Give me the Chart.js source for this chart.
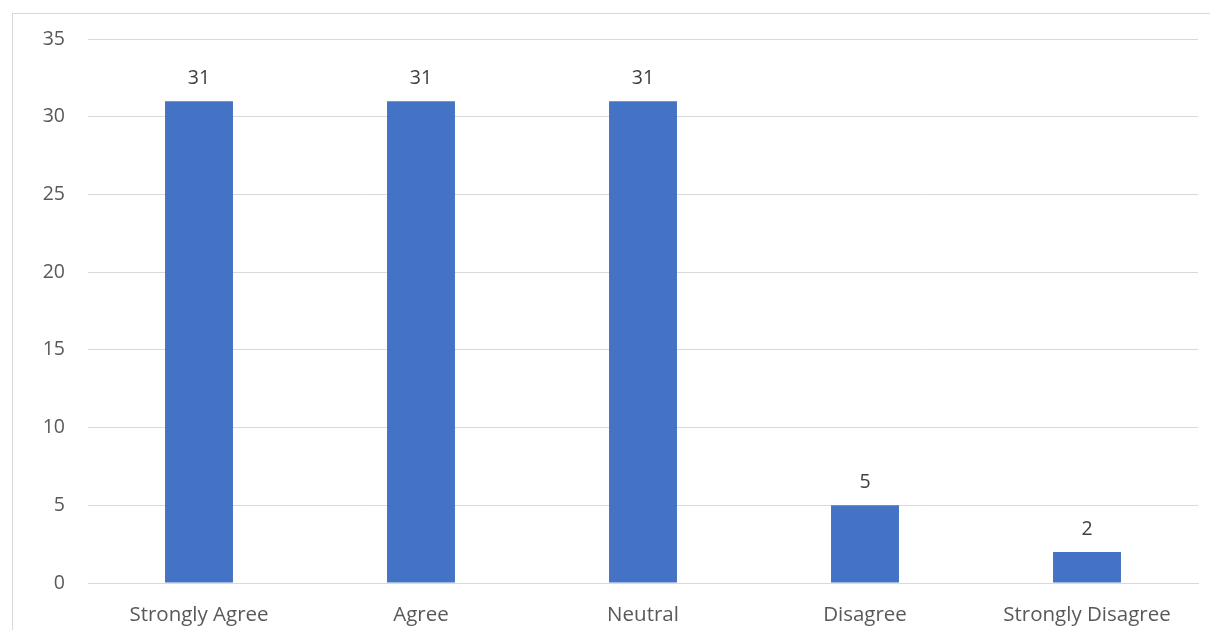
<!DOCTYPE html>
<html>
<head>
<meta charset="utf-8">
<script src="https://cdn.jsdelivr.net/npm/chart.js@4.4.0/dist/chart.umd.min.js"></script>
<style>
  html, body { margin: 0; padding: 0; background: #fff; }
  #wrap { position: relative; width: 1210px; height: 630px; overflow: hidden; }
  #frame { position: absolute; left: 12px; top: 13px; width: 1220px; height: 640px; border: 1px solid #d9d9d9; }
  #c { position: absolute; left: 0; top: 0; }
</style>
</head>
<body>
<div id="wrap">
  <div id="frame"></div>
  <canvas id="c" width="1210" height="630"></canvas>
</div>
<script>
var categories = ['Strongly Agree', 'Agree', 'Neutral', 'Disagree', 'Strongly Disagree'];
var counts = [31, 31, 31, 5, 2];
var yTicks = [0, 5, 10, 15, 20, 25, 30, 35];

var FONT = '"Open Sans", sans-serif';
var FSIZE = 19.5;

// value labels above each bar
var barLabels = {
  id: 'barLabels',
  afterDatasetsDraw: function(chart) {
    var ctx = chart.ctx;
    var meta = chart.getDatasetMeta(0);
    ctx.save();
    ctx.fillStyle = '#404040';
    ctx.font = FSIZE + 'px ' + FONT;
    ctx.textAlign = 'center';
    ctx.textBaseline = 'alphabetic';
    meta.data.forEach(function(bar, i) {
      ctx.fillText(String(counts[i]), bar.x, bar.y - 17);
    });
    ctx.restore();
  }
};

new Chart(document.getElementById('c'), {
  type: 'bar',
  data: {
    labels: categories,
    datasets: [{
      data: counts,
      backgroundColor: '#4472c4',
      borderWidth: 0,
      categoryPercentage: 1,
      barPercentage: 0.306
    }]
  },
  options: {
    responsive: false,
    animation: false,
    layout: { padding: { top: 39, right: 12, left: 0, bottom: 0 } },
    plugins: { legend: { display: false }, tooltip: { enabled: false } },
    scales: {
      x: {
        grid: { display: false, drawTicks: false },
        border: { color: '#d9d9d9' },
        ticks: { color: '#595959', font: { family: FONT, size: 20.5 }, padding: 20, maxRotation: 0 },
        afterFit: function(s) { s.height = 47; }
      },
      y: {
        min: 0, max: 35,
        afterBuildTicks: function(s) { s.ticks = yTicks.map(function(v){ return { value: v }; }); },
        grid: { color: '#d9d9d9', drawTicks: false },
        border: { display: false },
        ticks: { color: '#595959', font: { family: FONT, size: FSIZE }, padding: 23 },
        afterFit: function(s) { s.width = 88; }
      }
    }
  },
  plugins: [barLabels]
});
</script>
</body>
</html>
